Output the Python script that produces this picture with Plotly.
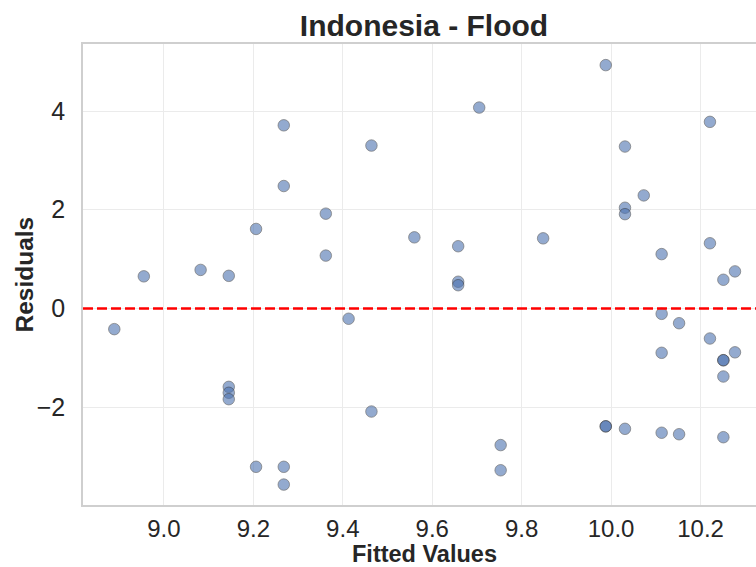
import plotly.graph_objects as go

# Fitted values and residuals of the flood model for Indonesia
fitted = [
    8.889, 8.955, 9.082, 9.145, 9.145, 9.145, 9.145, 9.206, 9.206, 9.268,
    9.268, 9.268, 9.268, 9.362, 9.362, 9.413, 9.464, 9.464, 9.560, 9.658,
    9.658, 9.658, 9.705, 9.753, 9.753, 9.848, 9.988, 9.988, 9.988, 10.031,
    10.031, 10.031, 10.031, 10.073, 10.113, 10.113, 10.113, 10.113, 10.152, 10.152,
    10.221, 10.221, 10.221, 10.251, 10.251, 10.251, 10.251, 10.251, 10.277, 10.277,
]
residuals = [
    -0.42, 0.65, 0.78, 0.66, -1.59, -1.71, -1.84, 1.61, -3.21, 3.71,
    2.48, -3.21, -3.57, 1.92, 1.07, -0.21, 3.30, -2.09, 1.44, 1.26,
    0.54, 0.47, 4.07, -2.77, -3.28, 1.42, 4.93, -2.39, -2.39, 3.28,
    2.04, 1.91, -2.44, 2.29, 1.10, -0.11, -0.90, -2.52, -0.30, -2.55,
    3.78, 1.32, -0.61, 0.58, -1.05, -1.05, -1.38, -2.61, 0.75, -0.89,
]
x_ticks = [9.0, 9.2, 9.4, 9.6, 9.8, 10.0, 10.2]
y_ticks = [-2, 0, 2, 4]
x_range = [8.819, 10.324]
y_range = [-3.984, 5.358]

W, H = 756, 567
L, T, B = 83, 44, 62
plot_w = W - L
text_col = "#262626"
font_family = "Liberation Sans, Arial, sans-serif"

fig = go.Figure()
fig.add_trace(go.Scatter(
    x=fitted, y=residuals, mode="markers",
    marker=dict(size=11.5, color="#4C72B0", opacity=0.6,
                line=dict(color="#1a1a1a", width=0.7)),
    hoverinfo="x+y", showlegend=False,
))

# Zero-residual reference line
fig.add_shape(type="line", xref="paper", yref="y", x0=0, x1=1, y0=0, y1=0,
              line=dict(color="red", width=2.5, dash="10px,4px"), layer="above")

fig.update_layout(
    width=W, height=H,
    margin=dict(l=L, r=0, t=T, b=B, pad=0),
    paper_bgcolor="white", plot_bgcolor="white",
    font=dict(family=font_family, color=text_col),
    title=dict(text="<b>Indonesia - Flood</b>", font=dict(size=30, color=text_col),
               xref="container", x=424 / W, xanchor="center",
               yref="container", y=1 - 25 / H, yanchor="middle"),
    annotations=[
        dict(text="<b>Fitted Values</b>", xref="paper", yref="paper",
             x=(424 - L) / plot_w, y=-(553.5 - (H - B)) / (H - T - B),
             xanchor="center", yanchor="middle", showarrow=False,
             font=dict(size=23.5, color=text_col)),
        dict(text="<b>Residuals</b>", xref="paper", yref="paper",
             x=(24 - L) / plot_w, y=0.5, textangle=-90,
             xanchor="center", yanchor="middle", showarrow=False,
             font=dict(size=24.5, color=text_col)),
    ],
)
fig.update_xaxes(
    range=x_range, tickvals=x_ticks, ticktext=[f"{v:.1f}" for v in x_ticks],
    showgrid=True, gridcolor="#ebebeb", gridwidth=1,
    showline=True, linecolor="#cfcfcf", linewidth=1.5, mirror=True,
    zeroline=False, ticks="", ticklabelstandoff=1,
    tickfont=dict(size=24, color=text_col),
)
fig.update_yaxes(
    range=y_range, tickvals=y_ticks, ticktext=["\u22122", "0", "2", "4"],
    showgrid=True, gridcolor="#ebebeb", gridwidth=1,
    showline=True, linecolor="#cfcfcf", linewidth=1.5, mirror=False,
    zeroline=False, ticks="", ticklabelstandoff=11,
    tickfont=dict(size=25, color=text_col),
)

fig.write_html("out.html")
